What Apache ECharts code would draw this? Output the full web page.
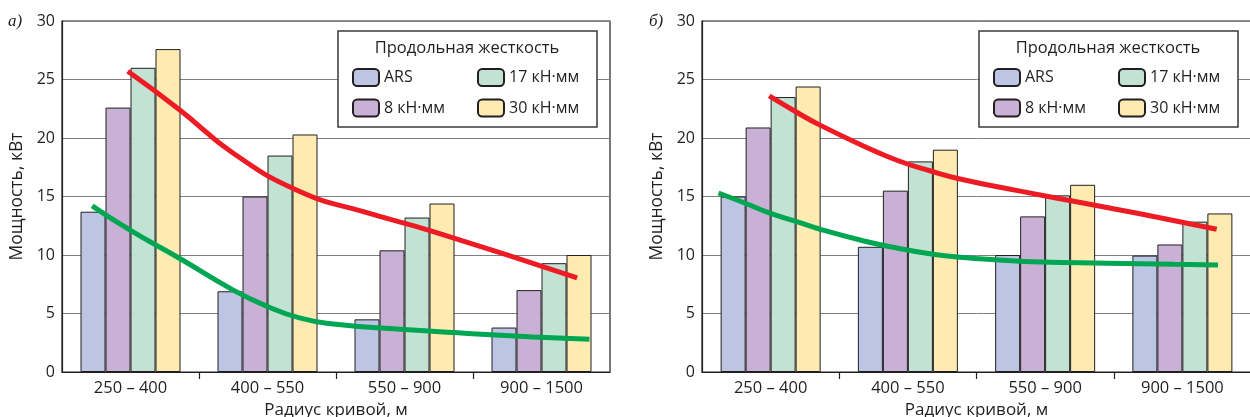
<!DOCTYPE html>
<html>
<head>
<meta charset="utf-8">
<script src="https://cdn.jsdelivr.net/npm/echarts@6/dist/echarts.min.js"></script>
<style>
html,body{margin:0;padding:0;background:#fff;}
#c{width:1250px;height:417px;}
</style>
</head>
<body>
<div id="c"></div>
<script>
// ---- data ----
const categories = ['250 – 400', '400 – 550', '550 – 900', '900 – 1500'];
const yTicks = [0, 5, 10, 15, 20, 25, 30];
const seriesNames = ['ARS', '8 кН·мм', '17 кН·мм', '30 кН·мм'];
const legendTitle = 'Продольная жесткость';
const yName = 'Мощность, кВт';
const xName = 'Радиус кривой, м';
const panelLabels = ['а)', 'б)'];

// panel а)
const arsA = [13.7, 6.9, 4.5, 3.8];
const k8A = [22.6, 15.0, 10.4, 7.0];
const k17A = [26.0, 18.5, 13.2, 9.3];
const k30A = [27.6, 20.3, 14.4, 10.0];
// curves: [position in category units from left edge, value]
const redA = [[0.48, 25.7], [0.86, 22.4], [1.25, 18.7], [1.74, 15.4], [2.2, 13.7], [2.71, 12.0], [3.76, 8.05]];
const greenA = [[0.22, 14.2], [0.50, 12.1], [0.86, 9.7], [1.25, 7.0], [1.50, 5.6], [1.74, 4.6], [1.98, 4.1], [2.47, 3.65], [2.96, 3.3], [3.44, 3.0], [3.85, 2.8]];

// panel б)
const arsB = [15.0, 10.7, 10.0, 9.95];
const k8B = [20.9, 15.5, 13.3, 10.9];
const k17B = [23.5, 18.0, 15.1, 12.85];
const k30B = [24.4, 19.0, 16.0, 13.55];
const redB = [[0.49, 23.6], [0.69, 22.2], [0.86, 21.1], [1.18, 19.3], [1.42, 18.1], [1.66, 17.2], [1.88, 16.5], [2.3, 15.5], [2.66, 14.7], [3.2, 13.5], [3.75, 12.2]];
const greenB = [[0.12, 15.3], [0.32, 14.4], [0.49, 13.6], [0.69, 12.85], [0.86, 12.2], [1.18, 11.2], [1.42, 10.6], [1.66, 10.1], [1.88, 9.8], [2.47, 9.4], [2.95, 9.3], [3.44, 9.2], [3.76, 9.15]];

const barColors = ['#bcc5e3', '#c9b0d5', '#c2e3d4', '#feebb2'];
const FONT = '"Open Sans", sans-serif';
const INK = '#231f20';

const chart = echarts.init(document.getElementById('c'), null, {renderer: 'canvas'});

const grids = [
  {left: 62, right: 640, top: 21, bottom: 45},
  {left: 702, right: -1, top: 21, bottom: 45}
];
const legendOffsets = [0, 641];

function gridOpt(g) {
  return Object.assign({show: true, borderColor: INK, borderWidth: 1.2, backgroundColor: 'transparent',
    outerBoundsMode: 'none', containLabel: false}, g);
}

const xAxes = [], yAxes = [], series = [], legends = [], graphics = [];
[0, 1].forEach(function (gi) {
  xAxes.push({
    type: 'category', gridIndex: gi, data: categories,
    axisLine: {lineStyle: {color: INK, width: 1.2}},
    axisTick: {show: false},
    axisLabel: {color: INK, fontSize: 16.5, fontFamily: FONT, margin: 8},
    name: xName, nameLocation: 'middle', nameGap: 30,
    nameTextStyle: {color: INK, fontSize: 17, fontFamily: FONT}
  });
  xAxes.push({
    type: 'value', gridIndex: gi, min: 0, max: categories.length, interval: 1,
    position: 'bottom',
    axisLine: {show: false},
    axisLabel: {show: false},
    splitLine: {show: false},
    axisTick: {show: true, length: 7, lineStyle: {color: INK, width: 1.2}, customValues: [1, 2, 3]}
  });
  yAxes.push({
    type: 'value', gridIndex: gi, min: yTicks[0], max: yTicks[yTicks.length - 1],
    interval: yTicks[1] - yTicks[0],
    axisLine: {show: true, lineStyle: {color: INK, width: 1.2}},
    axisTick: {show: false},
    axisLabel: {color: INK, fontSize: 16, fontFamily: FONT, margin: 7},
    splitLine: {show: true, lineStyle: {color: '#808080', width: 1}},
    name: yName, nameLocation: 'middle', nameGap: 36,
    nameTextStyle: {color: INK, fontSize: 17.5, fontFamily: FONT}
  });
  const bars = gi === 0 ? [arsA, k8A, k17A, k30A] : [arsB, k8B, k17B, k30B];
  bars.forEach(function (vals, si) {
    series.push({
      type: 'bar', name: seriesNames[si], xAxisIndex: gi * 2, yAxisIndex: gi,
      data: vals, barWidth: 25, barGap: '0%',
      itemStyle: {color: barColors[si], borderColor: INK, borderWidth: 1},
      emphasis: {disabled: true}, z: 2
    });
  });
  const red = gi === 0 ? redA : redB;
  const green = gi === 0 ? greenA : greenB;
  [[red, '#ed1c24'], [green, '#00a651']].forEach(function (p) {
    series.push({
      type: 'line', xAxisIndex: gi * 2 + 1, yAxisIndex: gi,
      data: p[0], smooth: 0.5, showSymbol: false, symbol: 'none',
      lineStyle: {color: p[1], width: 5, cap: 'butt'},
      emphasis: {disabled: true}, z: 5, silent: true
    });
  });
  const off = legendOffsets[gi];
  legends.push({
    orient: 'vertical', left: 352 + off, top: 68, padding: 0,
    itemWidth: 26, itemHeight: 17, itemGap: 11.5,
    data: [seriesNames[0], seriesNames[1]],
    textStyle: {color: INK, fontSize: 16, fontFamily: FONT},
    selectedMode: false, z: 120
  });
  legends.push({
    orient: 'vertical', left: 477 + off, top: 68, padding: 0,
    itemWidth: 26, itemHeight: 17, itemGap: 11.5,
    data: [seriesNames[2], seriesNames[3]],
    textStyle: {color: INK, fontSize: 16, fontFamily: FONT},
    selectedMode: false, z: 120
  });
  graphics.push({
    type: 'rect', z: 100, shape: {x: 338 + off, y: 31, width: 259, height: 96},
    style: {fill: '#fff', stroke: '#3a3a3a', lineWidth: 1.5}
  });
  graphics.push({
    type: 'text', z: 105, x: 467 + off, y: 48,
    style: {text: legendTitle, fill: INK, font: '16.5px ' + FONT, textAlign: 'center', textVerticalAlign: 'middle'}
  });
  graphics.push({
    type: 'text', z: 105, x: gi === 0 ? 8 : 649, y: 22,
    style: {text: panelLabels[gi], fill: INK, font: 'italic 17px "Liberation Serif", serif', textAlign: 'left', textVerticalAlign: 'middle'}
  });
});

chart.setOption({
  animation: false,
  backgroundColor: '#fff',
  grid: grids.map(gridOpt),
  xAxis: xAxes,
  yAxis: yAxes,
  legend: legends,
  series: series,
  graphic: graphics
});
</script>
</body>
</html>
